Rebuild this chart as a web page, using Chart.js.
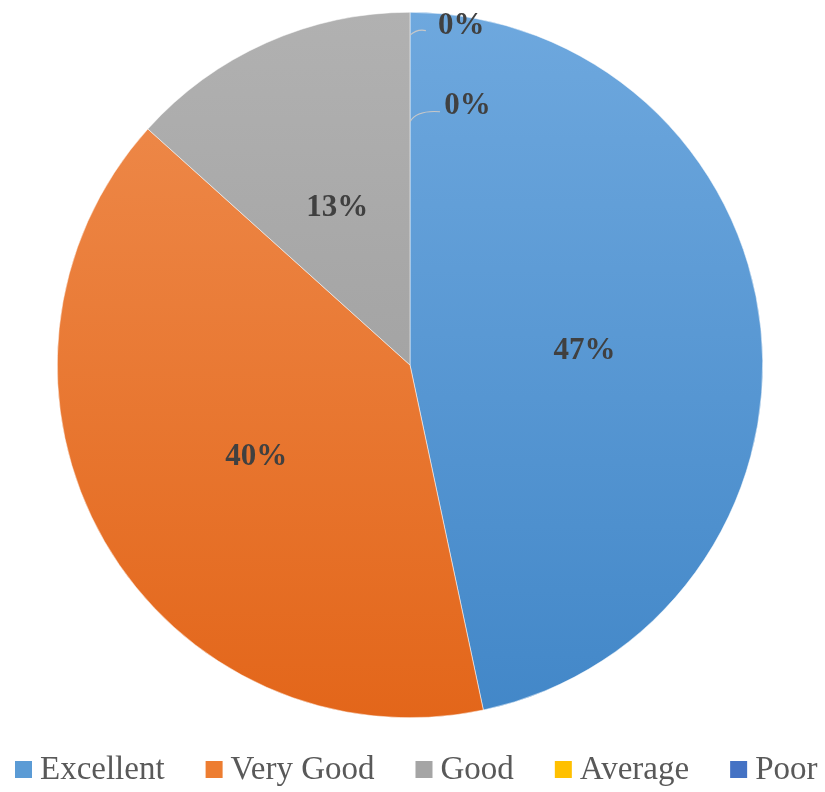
<!DOCTYPE html>
<html><head><meta charset="utf-8">
<script src="https://cdn.jsdelivr.net/npm/chart.js@4/dist/chart.umd.min.js"></script>
<style>html,body{margin:0;padding:0;background:#fff}#wrap{width:825px;height:792px}</style>
</head><body><div id="wrap"><canvas id="c"></canvas></div>
<script>
const categories = ["Excellent", "Very Good", "Good", "Average", "Poor"];
const counts = [14, 12, 4, 0, 0];
const percentLabels = ["47%", "40%", "13%", "0%", "0%"];
const baseColors = ["#5b9bd5", "#ed7d31", "#a5a5a5", "#ffc000", "#4472c4"];
const topColors = ["#6ea8de", "#ef8d4f", "#b1b1b1", "#ffc933", "#5a84cc"];
const bottomColors = ["#4287c8", "#e3661a", "#979797", "#f0b000", "#3a64b2"];

function grad(ctx) {
  const chart = ctx.chart; const a = chart.chartArea;
  if (!a) return baseColors[ctx.dataIndex];
  const g = chart.ctx.createLinearGradient(0, a.top, 0, a.bottom);
  g.addColorStop(0, topColors[ctx.dataIndex]);
  g.addColorStop(1, bottomColors[ctx.dataIndex]);
  return g;
}

const labelPlugin = {
  id: 'pctLabels',
  afterDatasetsDraw(chart) {
    const ctx = chart.ctx; const meta = chart.getDatasetMeta(0);
    ctx.save();
    ctx.font = "bold 31px 'Liberation Serif'";
    ctx.fillStyle = "#404040";
    ctx.textAlign = "center"; ctx.textBaseline = "middle";
    let zeroIdx = 0;
    meta.data.forEach((arc, i) => {
      if (counts[i] > 0) {
        const p = arc.tooltipPosition();
        ctx.fillText(percentLabels[i], p.x - 1, p.y + 4);
      } else {
        const cx = arc.x, cy = arc.y, r = arc.outerRadius;
        const spots = [[0.145, -0.962, 0.0, -0.935, 0.045, -0.948], [0.163, -0.735, 0.0, -0.69, 0.085, -0.718]];
        const s = spots[zeroIdx++];
        ctx.strokeStyle = "#c8c8c8"; ctx.lineWidth = 1.2;
        ctx.beginPath();
        ctx.moveTo(cx + s[2] * r, cy + s[3] * r);
        ctx.quadraticCurveTo(cx + 0.02 * r, cy + (s[5] - 0.005) * r, cx + s[4] * r, cy + s[5] * r);
        ctx.stroke();
        ctx.fillText(percentLabels[i], cx + s[0] * r, cy + s[1] * r);
      }
    });
    ctx.restore();
  }
};

const legendPlugin = {
  id: 'customLegend',
  afterDraw(chart) {
    const ctx = chart.ctx;
    ctx.save();
    ctx.font = "33px 'Liberation Serif'";
    ctx.textBaseline = "middle"; ctx.textAlign = "left";
    const box = 17, boxGap = 8, itemGap = 41, yMid = 769.5;
    let x = 15;
    categories.forEach((c, i) => {
      ctx.fillStyle = baseColors[i];
      ctx.fillRect(x, yMid - box / 2, box, box);
      x += box + boxGap;
      ctx.fillStyle = "#595959";
      ctx.fillText(c, x, yMid + 1);
      x += ctx.measureText(c).width + itemGap;
    });
    ctx.restore();
  }
};

new Chart(document.getElementById('c'), {
  type: 'pie',
  data: { labels: categories, datasets: [{ data: counts, backgroundColor: grad, borderColor: '#ffffff', borderWidth: 0.5 }] },
  options: {
    responsive: true, maintainAspectRatio: false, animation: false,
    layout: { padding: { top: 12, left: 0, right: 5, bottom: 74 } },
    plugins: {
      tooltip: { enabled: false },
      legend: { display: false }
    }
  },
  plugins: [labelPlugin, legendPlugin]
});
</script></body></html>
